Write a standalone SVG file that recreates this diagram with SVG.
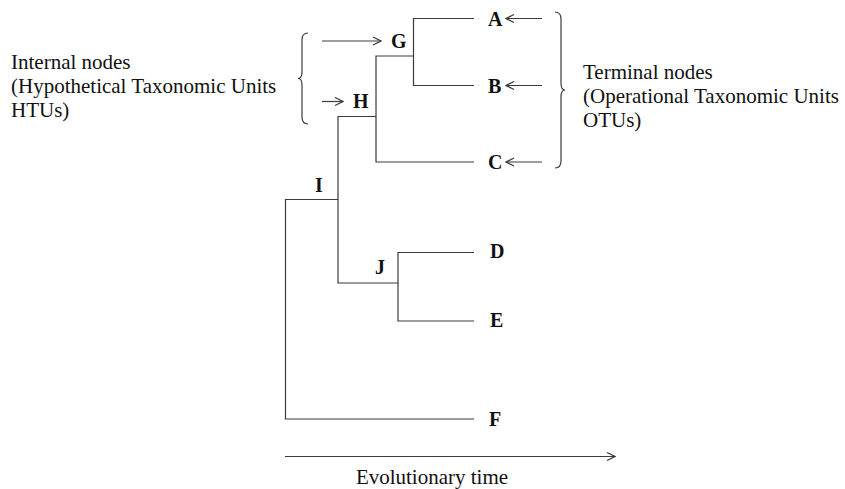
<svg xmlns="http://www.w3.org/2000/svg" width="845" height="489" viewBox="0 0 845 489">
<style>
.ln{stroke:#3a3a3a;stroke-width:1.2;fill:none}
.ar{stroke:#3a3a3a;stroke-width:1.2;fill:none}
.lab{font-family:"Liberation Serif","Times New Roman",serif;font-weight:bold;font-size:20px;fill:#111}
.txt{font-family:"Liberation Serif","Times New Roman",serif;font-size:21px;fill:#111}
</style>
<defs>
<marker id="arr" markerWidth="10" markerHeight="10" refX="9" refY="5" orient="auto" markerUnits="userSpaceOnUse">
<path d="M1,1 L9,5 L1,9" fill="none" stroke="#3a3a3a" stroke-width="1.2"/>
</marker>
</defs>
<rect width="845" height="489" fill="#fff"/>
<g id="connectors">
<path class="ln" d="M474,18.5 H413.5 V85.5 H474"/>
<path class="ln" d="M413.5,56 H376 V162 H474"/>
<path class="ln" d="M376,116.5 H338 V283 H398"/>
<path class="ln" d="M474,252.5 H398 V321 H474"/>
<path class="ln" d="M338,199.5 H285.5 V419 H474"/>
<line class="ar" x1="542" y1="18.5" x2="506" y2="18.5" marker-end="url(#arr)"/>
<line class="ar" x1="542" y1="85.5" x2="506" y2="85.5" marker-end="url(#arr)"/>
<line class="ar" x1="542" y1="162" x2="506" y2="162" marker-end="url(#arr)"/>
<line class="ar" x1="322" y1="41" x2="381" y2="41" marker-end="url(#arr)"/>
<line class="ar" x1="322" y1="101.5" x2="343" y2="101.5" marker-end="url(#arr)"/>
<line class="ar" x1="285" y1="456.5" x2="615" y2="456.5" marker-end="url(#arr)"/>
<path class="ln" d="M308,33 Q302,33 302,40 V72 Q302,78.5 298,78.5 Q302,78.5 302,85 V117 Q302,124 308,124"/>
<path class="ln" d="M555,12 Q561,12 561,19 V83 Q561,90 565,90 Q561,90 561,97 V161 Q561,168 555,168"/>
</g>
<g id="node-A"><text class="lab" x="488" y="26">A</text></g>
<g id="node-B"><text class="lab" x="488" y="93">B</text></g>
<g id="node-C"><text class="lab" x="488" y="169">C</text></g>
<g id="node-D"><text class="lab" x="490" y="258">D</text></g>
<g id="node-E"><text class="lab" x="490" y="327">E</text></g>
<g id="node-F"><text class="lab" x="489" y="426">F</text></g>
<g id="node-G"><text class="lab" x="391" y="48">G</text></g>
<g id="node-H"><text class="lab" x="353" y="108">H</text></g>
<g id="node-I"><text class="lab" x="315" y="192">I</text></g>
<g id="node-J"><text class="lab" x="375" y="274">J</text></g>
<g id="internal-label">
<text class="txt" x="11" y="69">Internal nodes</text>
<text class="txt" x="11" y="93">(Hypothetical Taxonomic Units</text>
<text class="txt" x="11" y="117">HTUs)</text>
</g>
<g id="terminal-label">
<text class="txt" x="583" y="79">Terminal nodes</text>
<text class="txt" x="583" y="103">(Operational Taxonomic Units</text>
<text class="txt" x="583" y="127">OTUs)</text>
</g>
<g id="axis-label"><text class="txt" x="432" y="484" text-anchor="middle">Evolutionary time</text></g>
</svg>
